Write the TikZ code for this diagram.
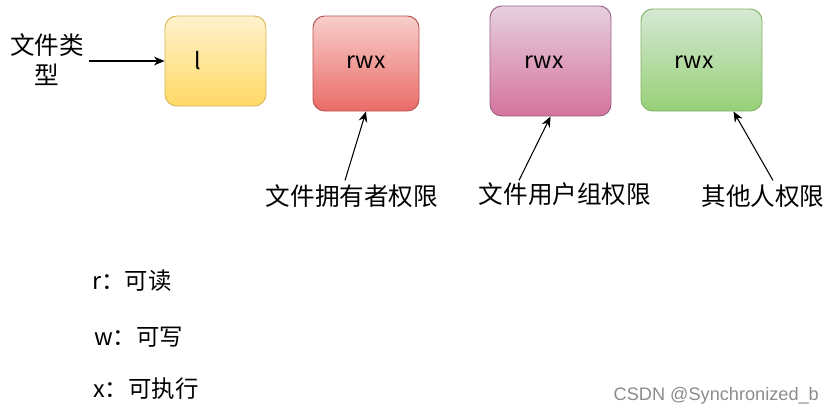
\documentclass[tikz,border=0pt]{standalone}
\usepackage{fontspec}
\setmainfont{Noto Sans CJK SC}
\newfontfamily\markfont{Liberation Sans}
\usetikzlibrary{arrows.meta,calc}

\definecolor{ylwtop}{HTML}{FFF2CC}\definecolor{ylwbot}{HTML}{FFD966}\definecolor{ylwline}{HTML}{D6B656}
\definecolor{redtop}{HTML}{F8CECC}\definecolor{redbot}{HTML}{EA6B66}\definecolor{redline}{HTML}{B85450}
\definecolor{pnktop}{HTML}{E6D0DE}\definecolor{pnkbot}{HTML}{D5739D}\definecolor{pnkline}{HTML}{996185}
\definecolor{grntop}{HTML}{D5E8D4}\definecolor{grnbot}{HTML}{97D077}\definecolor{grnline}{HTML}{82B366}

\begin{document}
\begin{tikzpicture}[x=0.03cm, y=-0.03cm,
	permbox/.style={rectangle, rounded corners=10pt, line width=0.8pt, inner sep=0pt},
	boxtxt/.style={font=\fontsize{19.5}{22}\selectfont},
	cjktxt/.style={font=\fontsize{21}{25.5}\selectfont, align=center},
	keytxt/.style={font=\fontsize{20}{24}\selectfont, anchor=west},
	arr/.style={-{Stealth[length=9pt,width=7.5pt]}, line width=0.9pt}]
	\useasboundingbox (0,0) rectangle (835,415);

	\node[permbox, top color=ylwtop, bottom color=ylwbot, draw=ylwline,
	minimum width=3.03cm, minimum height=2.7cm] (typebox) at (215.5,61) {};
	\node[permbox, top color=redtop, bottom color=redbot, draw=redline,
	minimum width=3.18cm, minimum height=2.85cm] (ownbox) at (366,63.5) {};
	\node[permbox, top color=pnktop, bottom color=pnkbot, draw=pnkline,
	minimum width=3.63cm, minimum height=3.3cm] (grpbox) at (550.5,61) {};
	\node[permbox, top color=grntop, bottom color=grnbot, draw=grnline,
	minimum width=3.63cm, minimum height=3.06cm] (othbox) at (701.5,60) {};

	\node[boxtxt] (typetxt) at (198,61) {l};
	\node[boxtxt] (owntxt) at (366,62) {rwx};
	\node[boxtxt] (grptxt) at (544,62) {rwx};
	\node[boxtxt] (othtxt) at (694,62) {rwx};

	\node[cjktxt] (typelbl) at (47,60) {文件类\\型};
	\node[cjktxt] (ownlbl) at (352,196) {文件拥有者权限};
	\node[cjktxt] (grplbl) at (565,194) {文件用户组权限};
	\node[cjktxt] (othlbl) at (763,196) {其他人权限};

	\draw[arr] ($(typelbl.east)+(1,1)$) -- (typebox.west);
	\draw[arr] ($(ownlbl.north)+(-7,0)$) -- (ownbox.south);
	\draw[arr] ($(grplbl.north)+(-46,2)$) -- (grpbox.south);
	\draw[arr] ($(othlbl.north)+(10,0)$) -- ($(othbox.south)+(32,0)$);

	\node[keytxt] (rkey) at (88,281) {r：可读};
	\node[keytxt] (wkey) at (90,337) {w：可写};
	\node[keytxt] (xkey) at (89,389) {x：可执行};

	\node[font=\markfont\fontsize{15.5}{18}\selectfont, text=black!45, anchor=east] (mark) at (823,396) {CSDN @Synchronized\_b};
\end{tikzpicture}
\end{document}
